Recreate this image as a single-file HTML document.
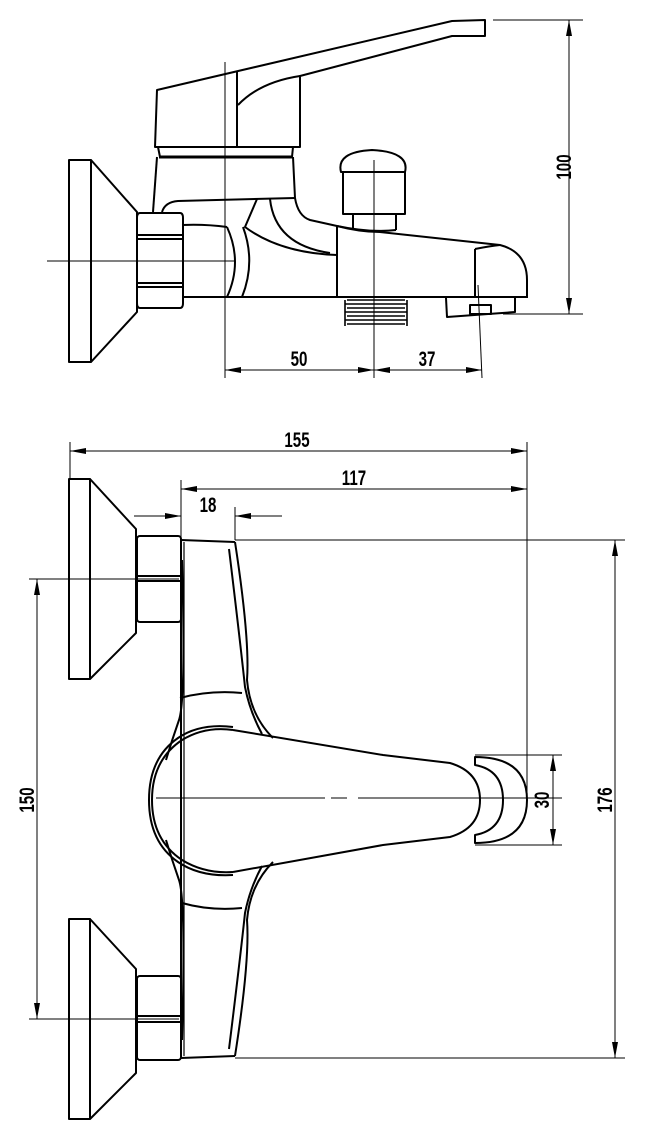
<!DOCTYPE html>
<html><head><meta charset="utf-8"><style>
html,body{margin:0;padding:0;background:#fff;}
svg{display:block;}
text{font-family:"Liberation Sans",sans-serif;font-size:21px;font-weight:bold;fill:#000;}
</style></head><body>
<svg width="645" height="1134" viewBox="0 0 645 1134" xmlns="http://www.w3.org/2000/svg">
<defs>
<marker id="a" viewBox="0 0 16 6" refX="16" refY="3" markerWidth="16" markerHeight="6" markerUnits="userSpaceOnUse" orient="auto-start-reverse">
<path d="M0,0 L16,3 L0,6 Z" fill="#000"/></marker>
</defs>
<g fill="none" stroke="#000" stroke-width="2" stroke-linejoin="round">
<rect x="69" y="160" width="22" height="202"/>
<path d="M91,160 L137,212 L137,312 L91,362"/>
<path d="M140,213 H180 Q183,213 183,218 V303 Q183,308 180,308 H140 Q137,308 137,303 V218 Q137,213 140,213 Z"/>
<path d="M137,235 H183 M137,239 H183 M137,283 H183 M137,287 H183"/>
<path d="M157,90 L452,21 L485,20 L485,36 L452,36 L300,76 L300,147 L155,147 Z"/>
<path d="M237,72 V148"/>
<path d="M238,105 Q260,82 300,76"/>
<path d="M158,147 L160,157 L292,157 L293,147"/>
<path d="M159,157 H293" stroke-width="3"/>
<path d="M157,157 L153,212"/>
<path d="M293,157 L295,198 Q298,216 310,220 L337,226"/>
<path d="M162,212 Q165,202 178,201 L295,198"/>
<path d="M182,225 Q205,224 227,227"/>
<path d="M182,297 H527"/>
<path d="M227,227 Q243,262 227,297"/>
<path d="M243,227 Q256,262 242,297"/>
<path d="M257,199 L245,227 Q280,253 337,255"/>
<path d="M270,199 Q275,245 330,253"/>
<path d="M337,226 V297"/>
<path d="M337,226 Q360,232 380,232 L500,245 Q527,252 527,280 V298"/>
<path d="M475,249 V298 M475,249 Q490,246 500,245"/>
<path d="M446,298 L447,317 L515,312 L515,298"/>
<rect x="470" y="305" width="21" height="9"/>
<path d="M341,172 Q336,152 372,150 Q410,152 405,172 Z"/>
<rect x="343" y="172" width="62" height="42"/>
<path d="M353,214 V230 M396,214 V230"/>
<path d="M337,226 Q370,233 396,230"/>
<g stroke-width="1.6">
<path d="M347,300 H405 M345,304 H407 M347,308 H405 M345,312 H407 M347,316 H405 M345,320 H407 M347,324 H405"/>
<path d="M345,300 V326 M407,300 V326"/>
</g>
</g>
<g fill="none" stroke="#000" stroke-width="1">
<path d="M47,261 H235"/>
<path d="M225,62 V378"/>
<path d="M374,160 V378"/>
<path d="M478,285 L482,378"/>
<path d="M493,20 H583 M503,314 H583"/>
<path d="M569,20 V314" marker-start="url(#a)" marker-end="url(#a)"/>
<path d="M225,370 H374" marker-start="url(#a)" marker-end="url(#a)"/>
<path d="M374,370 H482" marker-start="url(#a)" marker-end="url(#a)"/>
</g>
<text transform="translate(299,366) scale(0.72,1)" text-anchor="middle">50</text>
<text transform="translate(427,366) scale(0.72,1)" text-anchor="middle">37</text>
<text transform="translate(571,167) rotate(-90) scale(0.72,1)" text-anchor="middle">100</text>

<g fill="none" stroke="#000" stroke-width="2" stroke-linejoin="round">
<rect x="69" y="479" width="21" height="200"/>
<path d="M90,479 L136,529 L136,633 L90,679"/>
<rect x="137" y="536" width="44" height="86" rx="3"/>
<path d="M137,576 H181 M137,581 H181"/>
<rect x="69" y="919" width="21" height="200"/>
<path d="M90,919 L136,969 L136,1073 L90,1119"/>
<rect x="137" y="976" width="44" height="84" rx="3"/>
<path d="M137,1016 H181 M137,1022 H181"/>
<path d="M181,540 V1058"/>
<path d="M184,542 V1056" stroke-width="1.2"/>
<path d="M181,540 L235,542"/>
<path d="M235,542 Q250,640 247,680 Q250,715 273,738"/>
<path d="M229,549 Q240,640 245,687 Q250,712 262,734"/>
<path d="M182,560 Q186,700 179,720 Q172,740 166,760"/>
<path d="M180,698 Q210,690 242,693"/>
<path d="M181,1058 L235,1056"/>
<path d="M235,1056 Q250,960 247,920 Q250,885 273,862"/>
<path d="M229,1049 Q240,960 245,913 Q250,888 262,866"/>
<path d="M182,1040 Q186,900 179,880 Q172,860 166,840"/>
<path d="M182,903 Q210,911 242,908"/>
<path d="M233,730 Q205,726 182,740 Q152,760 152,800 Q152,840 182,860 Q205,874 233,872"/>
<path d="M233,727 Q200,723 178,738 Q149,758 149,800 Q149,842 178,862 Q200,877 233,875"/>
<path d="M233,730 L383,755 L450,763 Q480,772 480,800 Q480,828 450,837 L383,845 L233,872"/>
<path d="M475,757 V765 Q503,770 503,800 Q503,830 475,835 V843 Q527,843 527,800 Q527,757 475,757 Z"/>
</g>
<g fill="none" stroke="#000" stroke-width="1">
<path d="M29,579 H179 M29,1019 H179"/>
<path d="M156,798 H325 M331,798 H347 M358,798 H562"/>
<path d="M70,442 V478 M527,442 V800"/>
<path d="M70,451 H527" marker-start="url(#a)" marker-end="url(#a)"/>
<path d="M181,480 V540"/>
<path d="M181,489 H527" marker-start="url(#a)" marker-end="url(#a)"/>
<path d="M235,507 V540"/>
<path d="M134,516 H181" marker-end="url(#a)"/>
<path d="M282,516 H235" marker-end="url(#a)"/>
<path d="M37,579 V1019" marker-start="url(#a)" marker-end="url(#a)"/>
<path d="M475,755 H562 M475,845 H562"/>
<path d="M553,755 V845" marker-start="url(#a)" marker-end="url(#a)"/>
<path d="M235,540 H625 M235,1058 H625"/>
<path d="M615,540 V1058" marker-start="url(#a)" marker-end="url(#a)"/>
</g>
<text transform="translate(297,447) scale(0.72,1)" text-anchor="middle">155</text>
<text transform="translate(354,485) scale(0.72,1)" text-anchor="middle">117</text>
<text transform="translate(208,512) scale(0.72,1)" text-anchor="middle">18</text>
<text transform="translate(34,800) rotate(-90) scale(0.72,1)" text-anchor="middle">150</text>
<text transform="translate(549,800) rotate(-90) scale(0.72,1)" text-anchor="middle">30</text>
<text transform="translate(612,800) rotate(-90) scale(0.72,1)" text-anchor="middle">176</text>
</svg>
</body></html>
